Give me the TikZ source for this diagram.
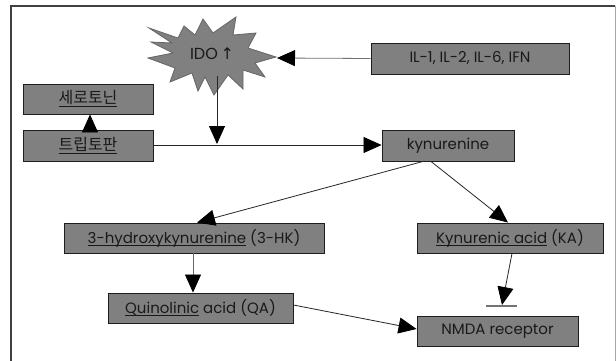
\documentclass[tikz,border=0pt]{standalone}
\usepackage{fontspec}
\setmainfont{Poppins}
\newfontfamily\kr{Noto Sans CJK KR}
\newfontfamily\sym{DejaVu Sans}
\usetikzlibrary{arrows.meta}
\definecolor{boxfill}{RGB}{128,128,128}
\definecolor{boxline}{RGB}{30,30,30}
\definecolor{txt}{RGB}{25,25,25}
\newcommand\ul[1]{\underline{\smash{#1}}}
\tikzset{
  box/.style={draw=boxline, fill=boxfill, line width=0.9pt, minimum height=30pt,
    inner sep=0pt, text=txt, font=\fontsize{15}{17}\selectfont},
  conn/.style={line width=0.8pt, draw=black!85, -{Triangle[length=18pt,width=16pt,color=black]}},
  plain/.style={line width=0.8pt, draw=black!85}
}
\begin{document}
\begin{tikzpicture}[x=1pt,y=-1pt]
\useasboundingbox (0,0) rectangle (616,361);
\fill[white] (0,0) rectangle (616,361);
% frame
\draw[black!75, line width=1.3pt] (11,361) -- (11,6) -- (615,6);
\draw[black!35, line width=1pt] (615,6) -- (615,361);
% star
\draw[fill=boxfill, draw=black!60, line width=0.8pt]
 (149,28) -- (178,38) -- (184,26) -- (195,35) -- (203,19) -- (213,33) -- (236,17) -- (233,35)
 -- (256,33) -- (248,48) -- (276,57) -- (255,63) -- (265,77) -- (243,70) -- (243,89) -- (228,75)
 -- (214,95) -- (205,77) -- (198,91) -- (192,73) -- (170,82) -- (175,68) -- (148,58) -- (173,53)
 -- (151,42) -- (172,43) -- cycle;
\node[text=txt, font=\fontsize{16}{18}\selectfont] (ido) at (212,54) {IDO\,{\sym ↑}};
\coordinate (idoR) at (277,58);
\coordinate (idoB) at (217,76);
% boxes
\node[box, minimum width=130pt] (sero) at (88,99) {\kr\fontsize{16}{18}\selectfont\underline{세로토닌}};
\node[box, minimum width=130pt, minimum height=31pt] (tryp) at (88,145.5) {\kr\fontsize{16}{18}\selectfont\underline{트립토판}};
\node[box, minimum width=198pt, minimum height=31pt] (il) at (470,58.5) {IL-1, IL-2, IL-6, IFN};
\node[box, minimum width=132pt, minimum height=31pt] (kyn) at (448,145.5) {kynurenine};
\node[box, minimum width=260pt] (hk) at (194,238) {\ul{3-hydroxykynurenine} (3-HK)};
\node[box, minimum width=185pt] (qa) at (200.5,308) {\ul{Quinolinic} acid (QA)};
\node[box, minimum width=186pt] (ka) at (510,238) {\ul{Kynurenic acid} (KA)};
\node[box, minimum width=161pt] (nmda) at (497.5,331) {NMDA receptor};
% inhibition bar
\coordinate (barL) at (486,306);
\coordinate (barR) at (517,306);
\coordinate (barM) at (502,305);
\draw[black!55, line width=1.2pt] (barL) -- (barR);
% connectors
\coordinate (jn) at (217,144);
\draw[conn] (tryp.east |- 0,145) -- (kyn.west |- 0,145);
\draw[conn] (idoB) -- (jn);
\draw[conn, draw=black!55] (il.west) -- (idoR);
\draw[conn] ([xshift=2pt]tryp.north) -- ([xshift=2pt]sero.south);
\draw[conn] ([xshift=-25pt]kyn.south) -- ([xshift=3pt]hk.north);
\draw[conn] ([xshift=-17pt]kyn.south) -- ([xshift=-2pt]ka.north);
\draw[conn, draw=black!60] ([xshift=-1pt]hk.south) -- ([xshift=-7.5pt]qa.north);
\draw[conn] ([yshift=3pt]qa.east) -- ([yshift=2pt]nmda.west);
\draw[conn] ([xshift=2pt]ka.south) -- (barM);
\end{tikzpicture}
\end{document}
